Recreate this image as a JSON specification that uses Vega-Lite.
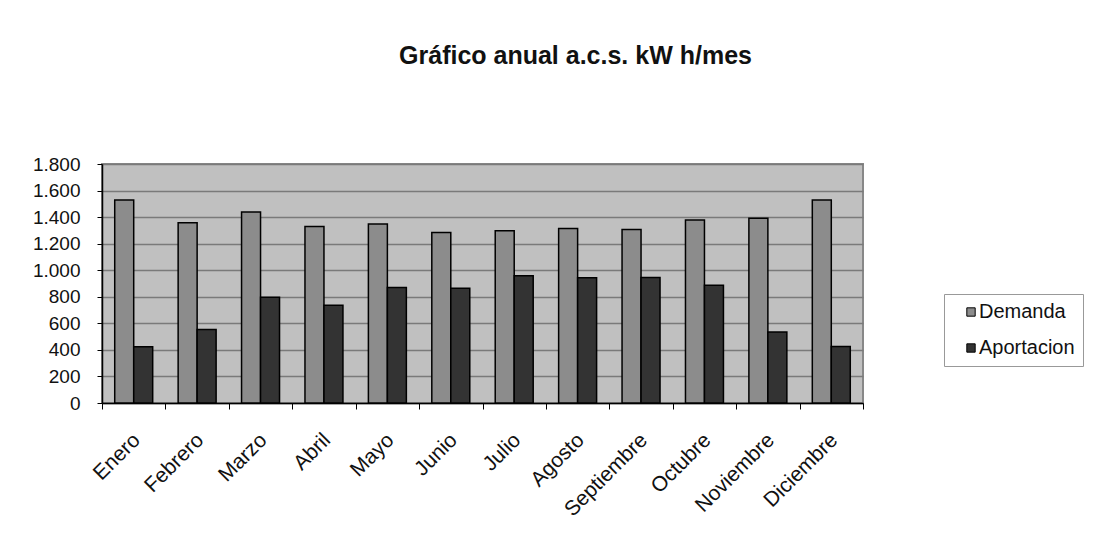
{
  "$schema": "https://vega.github.io/schema/vega-lite/v6.json",
  "autosize": {"type": "none"},
  "width": 761,
  "height": 239,
  "padding": {"left": 102, "top": 164, "right": 256, "bottom": 154},
  "background": "white",
  "title": {
    "text": "Gráfico anual a.c.s. kW h/mes",
    "font": "Liberation Sans",
    "fontSize": 25,
    "fontWeight": "bold",
    "color": "#111",
    "anchor": "middle",
    "dx": 93,
    "offset": 86
  },
  "data": {
    "values": [
      {"mes": "Enero", "serie": "Demanda", "valor": 1529},
      {"mes": "Enero", "serie": "Aportacion", "valor": 423},
      {"mes": "Febrero", "serie": "Demanda", "valor": 1357},
      {"mes": "Febrero", "serie": "Aportacion", "valor": 553},
      {"mes": "Marzo", "serie": "Demanda", "valor": 1439},
      {"mes": "Marzo", "serie": "Aportacion", "valor": 797},
      {"mes": "Abril", "serie": "Demanda", "valor": 1329},
      {"mes": "Abril", "serie": "Aportacion", "valor": 737},
      {"mes": "Mayo", "serie": "Demanda", "valor": 1349},
      {"mes": "Mayo", "serie": "Aportacion", "valor": 869},
      {"mes": "Junio", "serie": "Demanda", "valor": 1285},
      {"mes": "Junio", "serie": "Aportacion", "valor": 864},
      {"mes": "Julio", "serie": "Demanda", "valor": 1297},
      {"mes": "Julio", "serie": "Aportacion", "valor": 958},
      {"mes": "Agosto", "serie": "Demanda", "valor": 1315},
      {"mes": "Agosto", "serie": "Aportacion", "valor": 943},
      {"mes": "Septiembre", "serie": "Demanda", "valor": 1307},
      {"mes": "Septiembre", "serie": "Aportacion", "valor": 946},
      {"mes": "Octubre", "serie": "Demanda", "valor": 1379},
      {"mes": "Octubre", "serie": "Aportacion", "valor": 886},
      {"mes": "Noviembre", "serie": "Demanda", "valor": 1392},
      {"mes": "Noviembre", "serie": "Aportacion", "valor": 535},
      {"mes": "Diciembre", "serie": "Demanda", "valor": 1529},
      {"mes": "Diciembre", "serie": "Aportacion", "valor": 426}
    ]
  },
  "mark": {"type": "bar", "stroke": "#000", "strokeWidth": 1.5},
  "encoding": {
    "x": {
      "field": "mes",
      "type": "nominal",
      "sort": null,
      "title": null,
      "scale": {"paddingInner": 0, "paddingOuter": 0},
      "axis": {
        "tickBand": "extent",
        "labelAngle": -45,
        "labelFontSize": 21,
        "labelFont": "Liberation Sans",
        "labelColor": "#111",
        "labelPadding": 20,
        "labelOffset": -5,
        "tickSize": 6,
        "tickColor": "#000",
        "domainColor": "#000",
        "domainWidth": 1.5,
        "grid": false
      }
    },
    "xOffset": {
      "field": "serie",
      "type": "nominal",
      "sort": ["Demanda", "Aportacion"],
      "scale": {"paddingInner": 0, "paddingOuter": 0.67}
    },
    "y": {
      "field": "valor",
      "type": "quantitative",
      "title": null,
      "scale": {"domain": [0, 1800], "nice": false},
      "axis": {
        "values": [0, 200, 400, 600, 800, 1000, 1200, 1400, 1600, 1800],
        "labelExpr": "replace(format(datum.value, ','), ',', '.')",
        "labelFontSize": 19,
        "labelFont": "Liberation Sans",
        "labelColor": "#111",
        "labelPadding": 17,
        "tickSize": 5,
        "tickColor": "#000",
        "domainColor": "#000",
        "domainWidth": 1.5,
        "grid": true,
        "gridColor": "#7a7a7a",
        "gridWidth": 1.5
      }
    },
    "fill": {
      "field": "serie",
      "type": "nominal",
      "sort": ["Demanda", "Aportacion"],
      "scale": {"domain": ["Demanda", "Aportacion"], "range": ["#8c8c8c", "#333333"]},
      "legend": {
        "title": null,
        "orient": "none",
        "legendX": 842,
        "legendY": 130,
        "strokeColor": "#999",
        "padding": 8,
        "symbolOffset": 9,
        "rowPadding": 16,
        "symbolType": "square",
        "symbolSize": 70,
        "symbolStrokeColor": "#000",
        "symbolStrokeWidth": 1,
        "symbolOpacity": 1,
        "labelFontSize": 20,
        "labelFont": "Liberation Sans",
        "labelColor": "#111",
        "labelOffset": -2
      }
    }
  },
  "config": {
    "view": {"fill": "#c0c0c0", "stroke": "#888", "strokeWidth": 2}
  }
}
